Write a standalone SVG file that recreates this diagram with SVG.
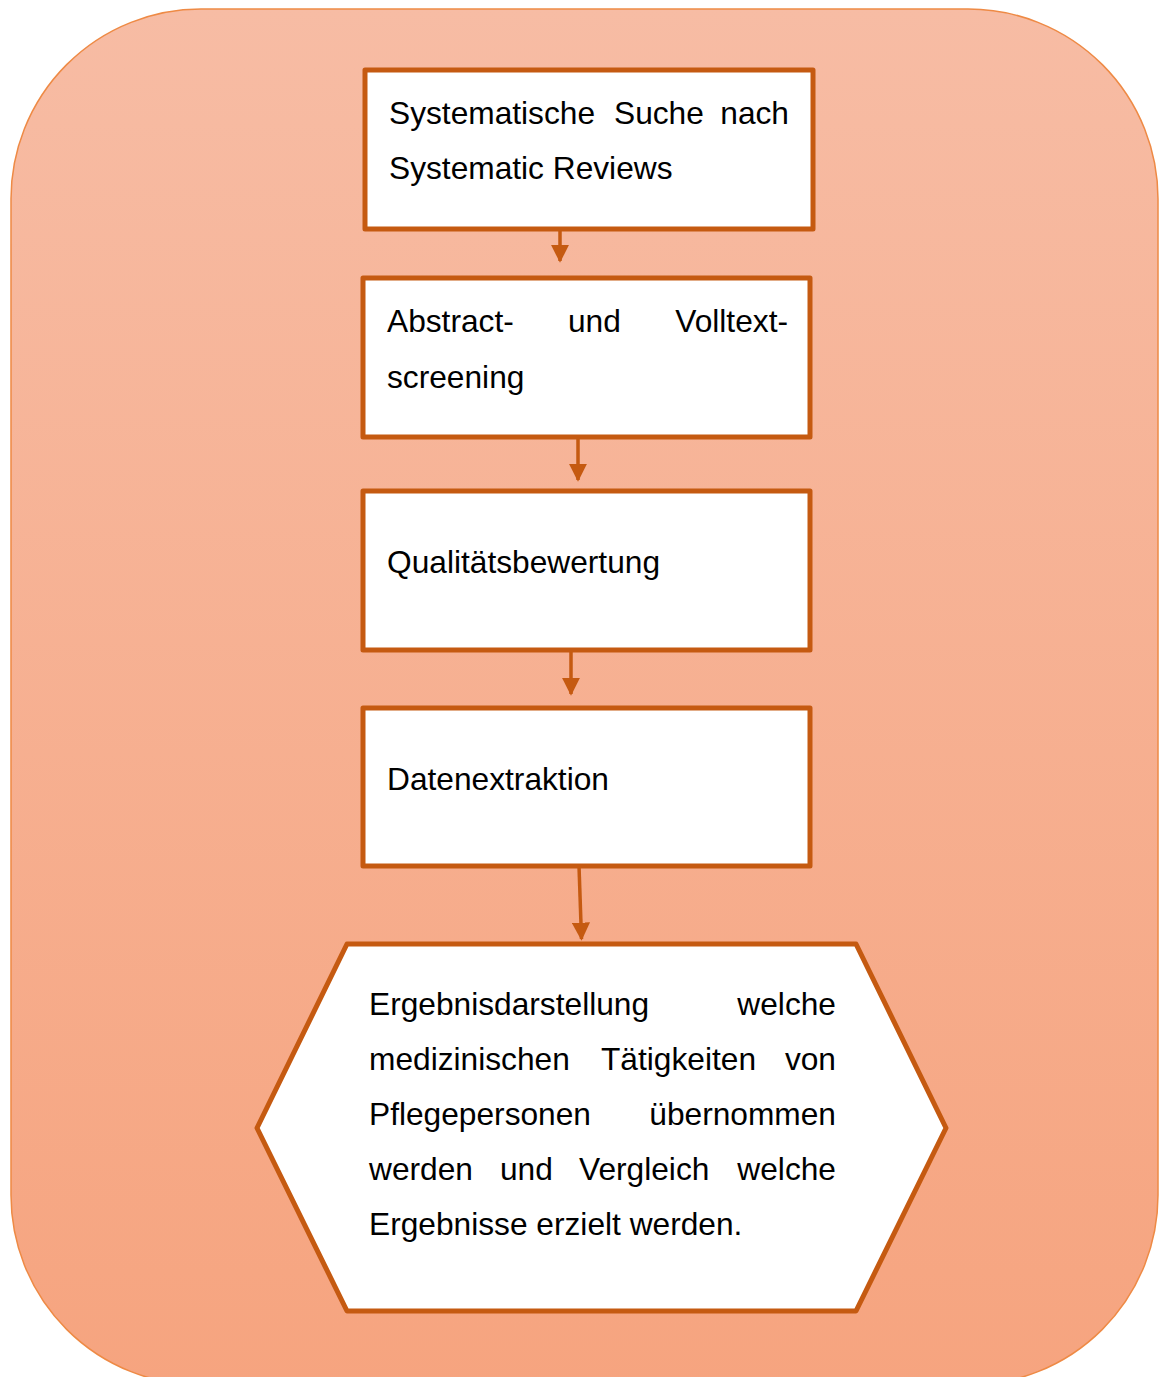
<svg xmlns="http://www.w3.org/2000/svg" width="1159" height="1377" viewBox="0 0 1159 1377">
<defs>
<linearGradient id="bg" x1="0" y1="0" x2="0" y2="1">
<stop offset="0" stop-color="#F7BCA4"/>
<stop offset="1" stop-color="#F6A47F"/>
</linearGradient>
<marker id="ah" viewBox="0 0 10 10" refX="9" refY="5" markerWidth="5.2" markerHeight="5.2" orient="auto" markerUnits="strokeWidth">
<path d="M0,0 L10,5 L0,10 z" fill="#C55A11"/>
</marker>
<style>
.node{fill:#fff;stroke:#C55A11;stroke-width:5;stroke-linejoin:round}
.t{font-family:"Liberation Sans",Arial,sans-serif;font-size:31.7px;fill:#000}
.e{text-anchor:end}
.c{stroke:#C55A11;stroke-width:3.5;fill:none;marker-end:url(#ah)}
</style>
</defs>
<rect x="11" y="9" width="1147" height="1376" rx="190" ry="190" fill="url(#bg)" stroke="#EE8A45" stroke-width="1.5"/>
<g id="connectors">
<line class="c" x1="560" y1="229" x2="560" y2="261"/>
<line class="c" x1="578" y1="437" x2="578" y2="480"/>
<line class="c" x1="571" y1="650" x2="571" y2="694"/>
<line class="c" x1="579" y1="866" x2="581.5" y2="939"/>
</g>
<g id="n1">
<rect class="node" x="365" y="70" width="448" height="159"/>
<text class="t" x="389" y="124">Systematische</text>
<text class="t" x="614" y="124">Suche</text>
<text class="t e" x="789" y="124">nach</text>
<text class="t" x="389" y="179">Systematic Reviews</text>
</g>
<g id="n2">
<rect class="node" x="363" y="278" width="447" height="159"/>
<text class="t" x="387" y="332">Abstract-</text>
<text class="t" x="568" y="332">und</text>
<text class="t e" x="788" y="332">Volltext-</text>
<text class="t" x="387" y="388">screening</text>
</g>
<g id="n3">
<rect class="node" x="363" y="491" width="447" height="159"/>
<text class="t" x="387" y="573">Qualitätsbewertung</text>
</g>
<g id="n4">
<rect class="node" x="363" y="708" width="447" height="158"/>
<text class="t" x="387" y="790">Datenextraktion</text>
</g>
<g id="n5">
<polygon class="node" points="347,944 856,944 946,1128 856,1311 347,1311 257,1128"/>
<text class="t" x="369" y="1015">Ergebnisdarstellung</text>
<text class="t e" x="836" y="1015">welche</text>
<text class="t" x="369" y="1070">medizinischen</text>
<text class="t" x="601" y="1070">Tätigkeiten</text>
<text class="t e" x="836" y="1070">von</text>
<text class="t" x="369" y="1125">Pflegepersonen</text>
<text class="t e" x="836" y="1125">übernommen</text>
<text class="t" x="369" y="1180">werden</text>
<text class="t" x="500" y="1180">und</text>
<text class="t" x="579" y="1180">Vergleich</text>
<text class="t e" x="836" y="1180">welche</text>
<text class="t" x="369" y="1235">Ergebnisse erzielt werden.</text>
</g>
</svg>
